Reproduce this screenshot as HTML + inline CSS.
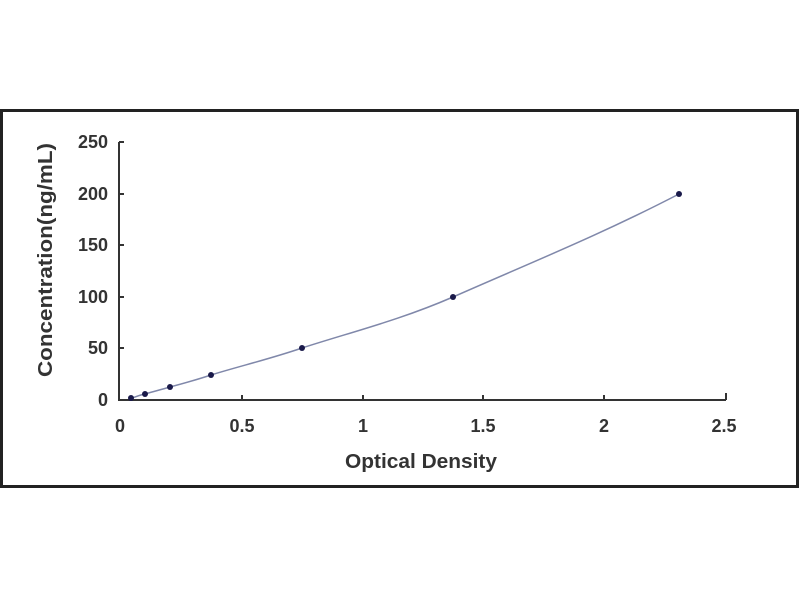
<!DOCTYPE html>
<html><head><style>body{margin:0;background:#fff}svg{display:block}</style></head><body>
<svg width="800" height="600" xmlns="http://www.w3.org/2000/svg" font-family="Liberation Sans, sans-serif" font-weight="bold">
<rect x="0" y="0" width="800" height="600" fill="#fff"/>
<rect x="1.5" y="110.5" width="796" height="376" fill="#fff" stroke="#222" stroke-width="3"/>
<g stroke="#333" stroke-width="2" fill="none">
<path d="M119 142 V400 H726"/>
<path d="M119 142h5M119 194h5M119 245h5M119 297h5M119 348h5"/>
<path d="M242 400v-5M363 400v-5M483 400v-5M604 400v-5M726 400v-7"/>
</g>
<g font-size="18" fill="#333" text-anchor="end">
<text x="108" y="148">250</text><text x="108" y="200">200</text><text x="108" y="251">150</text>
<text x="108" y="303">100</text><text x="108" y="354">50</text><text x="108" y="406">0</text>
</g>
<g font-size="18" fill="#333" text-anchor="middle">
<text x="120" y="432">0</text><text x="242" y="432">0.5</text><text x="363" y="432">1</text>
<text x="483" y="432">1.5</text><text x="604" y="432">2</text><text x="724" y="432">2.5</text>
</g>
<g font-size="20" fill="#333" text-anchor="middle">
<text x="421" y="468" textLength="152" lengthAdjust="spacingAndGlyphs">Optical Density</text>
<text transform="translate(52 260) rotate(-90)" textLength="234" lengthAdjust="spacingAndGlyphs">Concentration(ng/mL)</text>
</g>
<path d="M130 399 C137 396 140 395 145 394 C155 391 160 390 170 387 C185 383 196 380 211 375 C240 366 270 359 302 348 C355 331 400 320 453 297 C530 263 600 235 679 194" fill="none" stroke="#8088aa" stroke-width="1.5"/>
<g fill="#1a1a4a">
<circle cx="131" cy="398" r="3"/><circle cx="145" cy="394" r="3"/><circle cx="170" cy="387" r="3"/>
<circle cx="211" cy="375" r="3"/><circle cx="302" cy="348" r="3"/><circle cx="453" cy="297" r="3"/><circle cx="679" cy="194" r="3"/>
</g>
</svg>
</body></html>
